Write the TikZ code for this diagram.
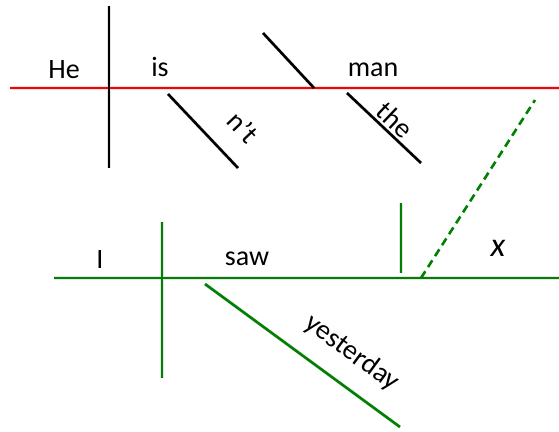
\documentclass[tikz,border=0pt]{standalone}
\usepackage{fontspec}
\setmainfont{Carlito}
\definecolor{dgreen}{RGB}{0,128,0}
\definecolor{lred}{RGB}{255,0,0}
\begin{document}
\begin{tikzpicture}[x=1pt,y=-1pt,
  ln/.style={line width=2.6pt},
  shd/.style={line width=3.5pt,draw=black!10},
  lbl/.style={font=\fontsize{28}{30}\selectfont,inner sep=0pt},
  lblb/.style={lbl,anchor=base}]
\useasboundingbox (0,0) rectangle (559,431);
% coordinates
\coordinate (rl) at (10,88);   \coordinate (rr) at (559,88);
\coordinate (vt) at (109,6);   \coordinate (vb) at (109,168);
\coordinate (na) at (168,94);  \coordinate (nb) at (238,168);
\coordinate (ua) at (263,33);  \coordinate (ub) at (314,88);
\coordinate (ta) at (347,93);  \coordinate (tb) at (421,163);
\coordinate (gl) at (54,278);  \coordinate (gr) at (559,278);
\coordinate (gvt) at (162,222); \coordinate (gvb) at (162,378);
\coordinate (ya) at (205,284); \coordinate (yb) at (400,427);
\coordinate (sva) at (401,203); \coordinate (svb) at (401,273);
\coordinate (da) at (535,100); \coordinate (db) at (421,278);
% shadows
\begin{scope}[shift={(1.5,3)}]
\draw[shd] (rl) -- (rr); \draw[shd] (vt) -- (vb);
\draw[shd] (na) -- (nb); \draw[shd] (ua) -- (ub); \draw[shd] (ta) -- (tb);
\draw[shd] (gl) -- (gr); \draw[shd] (gvt) -- (gvb); \draw[shd] (ya) -- (yb);
\draw[shd] (sva) -- (svb);
\end{scope}
% top sentence
\draw[ln,lred] (rl) -- (rr);
\draw[ln,black] (vt) -- (vb);
\draw[ln,black] (na) -- (nb);
\draw[ln,black] (ua) -- (ub);
\draw[ln,black] (ta) -- (tb);
% bottom sentence
\draw[ln,dgreen] (gl) -- (gr);
\draw[ln,dgreen] (gvt) -- (gvb);
\draw[ln,dgreen] (ya) -- (yb);
\draw[ln,dgreen] (sva) -- (svb);
\draw[ln,dgreen,dash pattern=on 8pt off 5pt] (db) -- (da);
% labels
\node[lblb] (he) at (64,78) {He};
\node[lblb] (is) at (160,76) {is};
\node[lblb] (man) at (373,76) {man};
\node[lbl,rotate=-46.6] (nt) at (243,127) {n’t};
\node[lbl,rotate=-43.4] (the) at (395,120) {the};
\node[lblb] (i) at (100,268) {I};
\node[lblb] (saw) at (247,265) {saw};
\node[lbl,rotate=-36.3] (yest) at (352,353) {yesterday};
\node[lbl,font=\fontsize{34}{36}\selectfont\itshape] (x) at (498,248) {x};
\end{tikzpicture}
\end{document}
